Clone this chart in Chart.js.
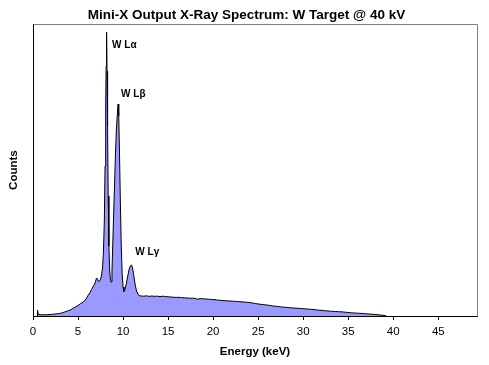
<!DOCTYPE html>
<html>
<head>
<meta charset="utf-8">
<script src="https://cdn.jsdelivr.net/npm/chart.js@4"></script>
<style>
html,body{margin:0;padding:0;background:#fff;}
#wrap{width:489px;height:365px;}
</style>
</head>
<body>
<div id="wrap"><canvas id="c" width="489" height="365"></canvas></div>
<script>
const energies = [0.48,0.5,0.58,0.8,1.2,1.6,2.0,2.3,2.6,2.9,3.2,3.5,3.8,4.1,4.4,4.7,5.0,5.3,5.6,5.9,6.1,6.3,6.5,6.7,6.9,7.05,7.15,7.3,7.45,7.6,7.72,7.82,7.92,8.0,8.07,8.12,8.17,8.22,8.28,8.35,8.43,8.52,8.6,8.67,8.77,8.85,8.95,9.05,9.15,9.25,9.35,9.45,9.52,9.6,9.7,9.8,9.9,10.0,10.1,10.2,10.35,10.5,10.65,10.8,10.95,11.05,11.2,11.35,11.5,11.65,11.8,12.0,12.3,12.6,12.9,13.2,13.5,13.8,14.1,14.4,14.7,15.0,15.3,15.6,15.9,16.2,16.5,16.8,17.1,17.4,17.7,18.0,18.3,18.6,18.9,19.2,19.5,19.8,20.1,20.4,20.7,21.0,21.3,21.6,21.9,22.2,22.5,22.8,23.1,23.4,23.7,24.0,24.3,24.6,24.9,25.2,25.5,25.8,26.1,26.4,26.7,27.0,27.3,27.6,27.9,28.2,28.5,28.8,29.1,29.4,29.7,30.0,30.3,30.6,30.9,31.2,31.5,31.8,32.1,32.4,32.7,33.0,33.3,33.6,33.9,34.2,34.5,34.8,35.1,35.4,35.7,36.0,36.3,36.6,36.9,37.2,37.5,37.8,38.1,38.4,38.7,39.0,39.2];
const counts = [0,60,15,13,12,14,16,18,22,25,30,40,50,58,75,90,105,125,140,170,205,230,265,300,330,380,370,345,355,400,480,640,950,1500,2100,2500,2840,2450,1900,1200,700,450,360,340,450,700,1000,1300,1600,1850,2000,2120,2000,1650,1150,700,420,290,245,260,320,390,460,500,510,480,400,310,250,220,205,200,198,202,196,200,197,199,194,198,195,192,190,188,186,187,183,182,180,178,179,176,168,174,172,170,168,166,164,160,158,155,154,151,150,148,146,145,142,140,138,135,132,126,122,118,115,112,108,104,100,97,94,91,88,86,83,81,79,77,75,73,71,69,67,64,61,58,56,53,51,48,46,45,43,42,40,37,34,32,30,28,27,25,23,21,19,17,14,12,9,6,3,0];
const xTickValues = [0,5,10,15,20,25,30,35,40,45];
const peakLabels = ['W L\u03b1','W L\u03b2','W L\u03b3'];
const labelEnergies = [8.78,9.78,11.36];
const labelCounts = [2710,2220,640];

const points = energies.map((e,i)=>({x:e,y:counts[i]}));

const labelPlugin = {
  id:'peakLabels',
  afterDatasetsDraw(chart){
    const {ctx, scales:{x,y}, chartArea:a} = chart;
    ctx.save();
    ctx.strokeStyle = '#808080';
    ctx.lineWidth = 1;
    ctx.beginPath();
    ctx.moveTo(Math.round(a.left)+0.5, Math.round(a.top)+0.5);
    ctx.lineTo(Math.round(a.right)+0.5, Math.round(a.top)+0.5);
    ctx.lineTo(Math.round(a.right)+0.5, Math.round(a.bottom)+0.5);
    ctx.stroke();
    ctx.fillStyle = '#000';
    ctx.font = 'bold 10px "Liberation Sans", Arial, sans-serif';
    ctx.textBaseline = 'middle';
    ctx.textAlign = 'left';
    peakLabels.forEach((t,i)=>{
      ctx.fillText(t, x.getPixelForValue(labelEnergies[i]), y.getPixelForValue(labelCounts[i]));
    });
    ctx.restore();
  }
};

new Chart(document.getElementById('c'), {
  type:'line',
  data:{datasets:[{
    data: points,
    borderColor:'#000',
    borderWidth:1,
    backgroundColor:'#9999FF',
    fill:'origin',
    pointRadius:0,
    tension:0
  }]},
  options:{
    responsive:false,
    animation:false,
    layout:{padding:{left:16,right:12,top:0,bottom:0}},
    plugins:{
      legend:{display:false},
      tooltip:{enabled:false},
      title:{
        display:true,
        text:'Mini-X Output X-Ray Spectrum: W Target @ 40 kV',
        color:'#000',
        font:{family:'"Liberation Sans", Arial, sans-serif', size:13.5, weight:'bold'},
        padding:{top:7,bottom:1}
      }
    },
    scales:{
      x:{
        type:'linear',
        min:0,
        max:49.3,
        afterBuildTicks(s){ s.ticks = xTickValues.map(v=>({value:v})); },
        afterFit(s){ s.height = 49; },
        grid:{display:true, drawOnChartArea:false, drawTicks:true, tickLength:4, tickColor:'#000'},
        border:{display:true, color:'#000', width:1},
        ticks:{color:'#000', padding:5, maxRotation:0, font:{family:'"Liberation Sans", Arial, sans-serif', size:11.5}},
        title:{display:true, text:'Energy (keV)', color:'#000', padding:{top:0,bottom:6},
          font:{family:'"Liberation Sans", Arial, sans-serif', size:11.5, weight:'bold'}}
      },
      y:{
        min:0,
        max:2920,
        afterFit(s){ s.width = 17; },
        grid:{display:false},
        border:{display:true, color:'#000', width:1},
        ticks:{display:false},
        title:{display:true, text:'Counts', color:'#000', padding:{top:-9,bottom:0},
          font:{family:'"Liberation Sans", Arial, sans-serif', size:11.5, weight:'bold'}}
      }
    }
  },
  plugins:[labelPlugin]
});
</script>
</body>
</html>
